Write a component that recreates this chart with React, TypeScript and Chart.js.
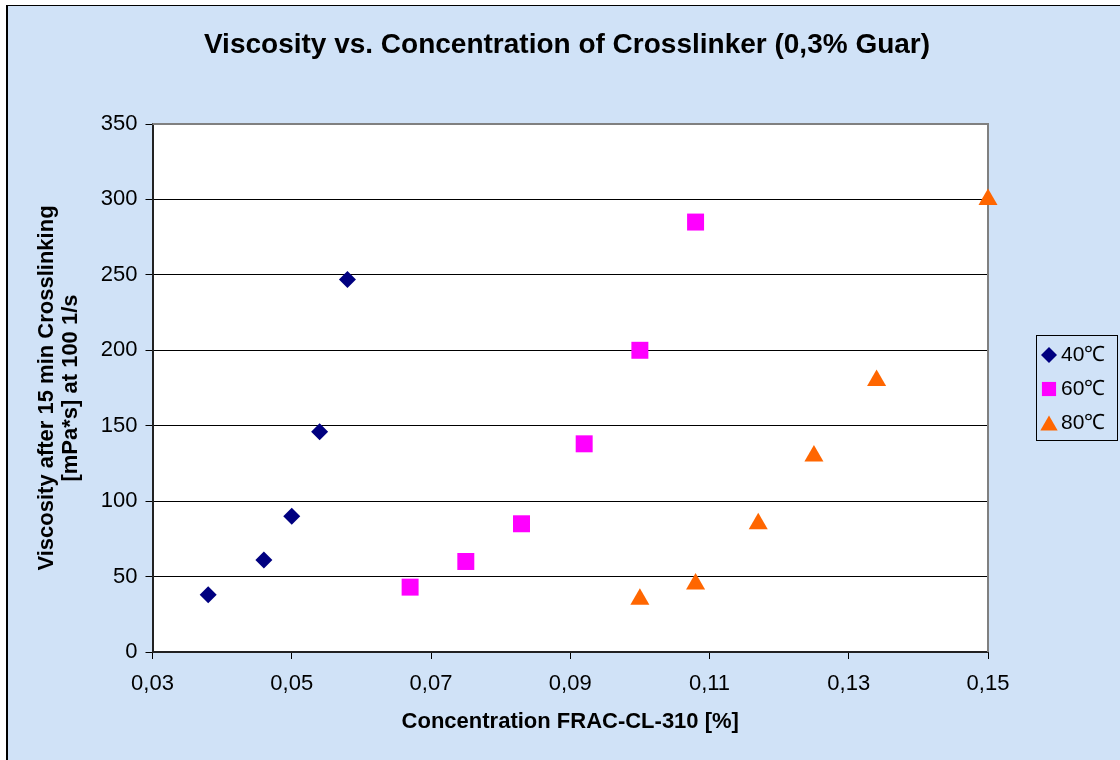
import React, { useEffect, useRef } from "react";
import { Chart, registerables } from "chart.js";

Chart.register(...registerables);

const TITLE = "Viscosity vs. Concentration of Crosslinker (0,3% Guar)";
const X_TITLE = "Concentration FRAC-CL-310 [%]";
const Y_TITLE = ["Viscosity after 15 min Crosslinking", "[mPa*s] at 100 1/s"];

const SERIES_NAMES = ["40℃", "60℃", "80℃"];

const X_40 = [0.038, 0.046, 0.05, 0.054, 0.058];
const Y_40 = [38, 61, 90, 146, 247];

const X_60 = [0.067, 0.075, 0.083, 0.092, 0.1, 0.108];
const Y_60 = [43, 60, 85, 138, 200, 285];

const X_80 = [0.1, 0.108, 0.117, 0.125, 0.134, 0.15];
const Y_80 = [35, 45, 85, 130, 180, 300];

const X_MIN = 0.03;
const X_MAX = 0.15;
const X_STEP = 0.02;
const Y_MIN = 0;
const Y_MAX = 350;
const Y_STEP = 50;

const COLORS = ["#000080", "#FF00FF", "#FF6600"];
const STYLES = ["rectRot", "rect", "triangle"];
const RADII = [8.5, 12, 11];

const FONT = '"Liberation Sans", Arial, sans-serif';

function toPoints(xs: number[], ys: number[]) {
  return xs.map((x, i) => ({ x, y: ys[i] }));
}

function drawMarker(ctx: CanvasRenderingContext2D, style: string, x: number, y: number, r: number, color: string) {
  ctx.save();
  ctx.fillStyle = color;
  ctx.beginPath();
  if (style === "rectRot") {
    ctx.moveTo(x, y - r);
    ctx.lineTo(x + r, y);
    ctx.lineTo(x, y + r);
    ctx.lineTo(x - r, y);
  } else if (style === "rect") {
    const h = r * Math.SQRT1_2;
    ctx.rect(x - h, y - h, 2 * h, 2 * h);
  } else {
    const hw = r * 0.866;
    ctx.moveTo(x, y - r * 0.75);
    ctx.lineTo(x + hw, y + r * 0.75);
    ctx.lineTo(x - hw, y + r * 0.75);
  }
  ctx.closePath();
  ctx.fill();
  ctx.restore();
}

const plotAreaPlugin = {
  id: "plotArea",
  beforeDraw(chart: any) {
    const { ctx, chartArea } = chart;
    ctx.save();
    ctx.fillStyle = "#FFFFFF";
    ctx.fillRect(chartArea.left, chartArea.top, chartArea.right - chartArea.left, chartArea.bottom - chartArea.top);
    ctx.restore();
  },
  beforeDatasetsDraw(chart: any) {
    const { ctx, chartArea } = chart;
    ctx.save();
    ctx.strokeStyle = "#808080";
    ctx.lineWidth = 2;
    ctx.beginPath();
    ctx.moveTo(chartArea.left, chartArea.top);
    ctx.lineTo(chartArea.right, chartArea.top);
    ctx.lineTo(chartArea.right, chartArea.bottom);
    ctx.stroke();
    ctx.restore();
  },
};

const legendBoxPlugin = {
  id: "legendBox",
  afterDraw(chart: any) {
    const { ctx } = chart;
    const left = 1036;
    const top = 335;
    const right = 1117;
    const bottom = 440;
    ctx.save();
    ctx.strokeStyle = "#000000";
    ctx.lineWidth = 1;
    ctx.strokeRect(left + 0.5, top + 0.5, right - left, bottom - top);
    const rows = [355, 389, 423];
    chart.data.datasets.forEach((ds: any, i: number) => {
      drawMarker(ctx, STYLES[i], 1049, rows[i], i === 0 ? 8 : 10, COLORS[i]);
      ctx.fillStyle = "#000";
      ctx.font = `21px ${FONT}`;
      ctx.textBaseline = "middle";
      ctx.textAlign = "left";
      ctx.fillText(ds.label, 1061, rows[i]);
    });
    ctx.restore();
  },
};

export default function App() {
  const ref = useRef<HTMLCanvasElement | null>(null);

  useEffect(() => {
    if (!ref.current) return;
    Chart.defaults.font.family = FONT;
    Chart.defaults.color = "#000";
    const xsList = [X_40, X_60, X_80];
    const ysList = [Y_40, Y_60, Y_80];
    const chart = new Chart(ref.current, {
      type: "scatter",
      data: {
        datasets: SERIES_NAMES.map((name, i) => ({
          label: name,
          data: toPoints(xsList[i], ysList[i]),
          pointStyle: STYLES[i] as any,
          pointRadius: RADII[i],
          pointHoverRadius: RADII[i],
          backgroundColor: COLORS[i],
          borderColor: COLORS[i],
          pointBorderWidth: 0,
          showLine: false,
          clip: false as any,
          xAxisID: "x",
          yAxisID: "y",
        })),
      },
      options: {
        animation: false,
        responsive: false,
        maintainAspectRatio: false,
        layout: { padding: { top: 10, left: 14, right: 0, bottom: 8 } },
        plugins: {
          legend: { display: false },
          tooltip: { enabled: false },
          title: {
            display: true,
            text: TITLE,
            color: "#000",
            font: { size: 28, weight: "bold", family: FONT, lineHeight: 1.2 },
            padding: { top: 18.2, bottom: 62.2 },
          },
        },
        scales: {
          x: {
            type: "linear",
            position: "bottom",
            min: X_MIN,
            max: X_MAX,
            ticks: {
              stepSize: X_STEP,
              font: { size: 22, family: FONT },
              color: "#000",
              padding: 12,
              maxRotation: 0,
              callback: (v: any) => Number(v).toFixed(2).replace(".", ","),
            },
            grid: { display: true, drawOnChartArea: false, drawTicks: true, tickLength: 7, color: "#000", lineWidth: 1 },
            border: { display: true, color: "#222", width: 2 },
            title: {
              display: true,
              text: X_TITLE,
              color: "#000",
              font: { size: 22, weight: "bold", family: FONT, lineHeight: 1.2 },
              padding: { top: 0, bottom: 17 },
            },
            afterFit: (scale: any) => {
              scale.height = 100;
            },
          },
          y: {
            type: "linear",
            position: "left",
            min: Y_MIN,
            max: Y_MAX,
            ticks: {
              stepSize: Y_STEP,
              font: { size: 22, family: FONT },
              color: "#000",
              padding: 8,
            },
            grid: { display: true, drawOnChartArea: true, drawTicks: true, tickLength: 7, color: "#000", lineWidth: 1 },
            border: { display: true, color: "#222", width: 2 },
            title: {
              display: true,
              text: Y_TITLE,
              color: "#000",
              font: { size: 22, weight: "bold", family: FONT, lineHeight: 1.1 },
              padding: { top: 21, bottom: 0 },
            },
            afterFit: (scale: any) => {
              scale.width = 138.5;
            },
          },
          yR: {
            type: "linear",
            position: "right",
            display: true,
            grid: { display: false, drawTicks: false },
            ticks: { display: false },
            border: { display: false },
            afterFit: (scale: any) => {
              scale.width = 132;
            },
          },
        },
      } as any,
      plugins: [plotAreaPlugin, legendBoxPlugin],
    });
    return () => chart.destroy();
  }, []);

  return (
    <div style={{ position: "fixed", left: 0, top: 0, width: 1120, height: 760, overflow: "hidden", background: "#fff" }}>
      <div
        style={{
          position: "absolute",
          left: 6,
          top: 5,
          width: 1140,
          height: 780,
          background: "#D0E2F7",
          borderLeft: "2px solid #000",
          borderTop: "1px solid #000",
          boxSizing: "border-box",
        }}
      />
      <canvas ref={ref} width={1120} height={760} style={{ position: "absolute", left: 0, top: 0 }} />
    </div>
  );
}
